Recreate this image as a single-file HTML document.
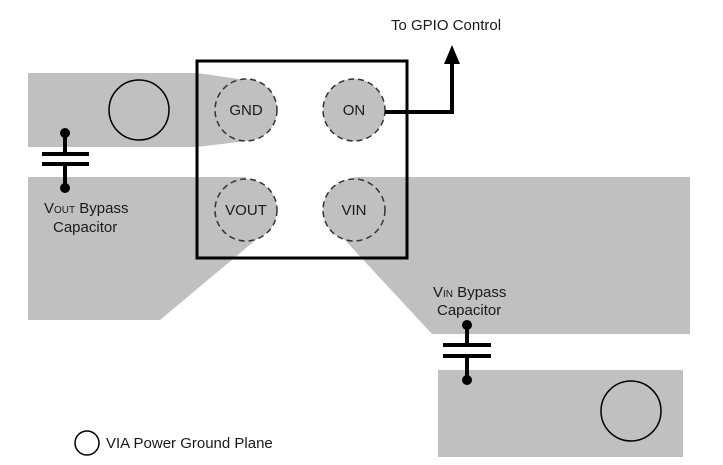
<!DOCTYPE html>
<html><head><meta charset="utf-8"><style>body{margin:0;background:#fff}svg{display:block}text{font-family:"Liberation Sans",sans-serif;font-size:15px;fill:#1a1a1a}</style></head><body>
<svg width="723" height="465" viewBox="0 0 723 465" xmlns="http://www.w3.org/2000/svg">
<g fill="#c0c0c0">
<polygon points="28,73 197,73 246,80 246,141 197,147 28,147"/>
<polygon points="28,177 246,177 246,236 258,238 160,320 28,320"/>
<polygon points="354,177 690,177 690,334 432,334 343,238 354,236"/>
<rect x="438" y="370" width="245" height="87"/>
</g>
<g fill="#c0c0c0" stroke="#333" stroke-width="1.5" stroke-dasharray="6,4">
<circle cx="246" cy="110" r="31"/>
<circle cx="354" cy="110" r="31"/>
<circle cx="246" cy="210" r="31"/>
<circle cx="354" cy="210" r="31"/>
</g>
<rect x="197" y="61" width="210" height="197" fill="none" stroke="#000" stroke-width="3"/>
<g fill="none" stroke="#000" stroke-width="1.5">
<circle cx="139" cy="110" r="30"/>
<circle cx="631" cy="411" r="30"/>
<circle cx="87" cy="443" r="12"/>
</g>
<polyline points="385,112 452,112 452,62" fill="none" stroke="#000" stroke-width="4"/>
<polygon points="452,45 444,64 460,64" fill="#000"/>
<g stroke="#000" stroke-width="4">
<line x1="65" y1="133" x2="65" y2="154"/><line x1="65" y1="164" x2="65" y2="188"/>
<line x1="42" y1="154" x2="89" y2="154"/><line x1="42" y1="164" x2="89" y2="164"/>
<line x1="467" y1="325" x2="467" y2="345"/><line x1="467" y1="356" x2="467" y2="380"/>
<line x1="443" y1="345" x2="491" y2="345"/><line x1="443" y1="356" x2="491" y2="356"/>
</g>
<g fill="#000"><circle cx="65" cy="133" r="5"/><circle cx="65" cy="188" r="5"/><circle cx="467" cy="325" r="5"/><circle cx="467" cy="380" r="5"/></g>
<text x="246" y="115" text-anchor="middle">GND</text>
<text x="354" y="115" text-anchor="middle">ON</text>
<text x="246" y="215" text-anchor="middle">VOUT</text>
<text x="354" y="215" text-anchor="middle">VIN</text>
<text x="391" y="30">To GPIO Control</text>
<text x="44" y="213">V<tspan font-size="10">OUT</tspan> Bypass</text>
<text x="53" y="232">Capacitor</text>
<text x="433" y="297">V<tspan font-size="10">IN</tspan> Bypass</text>
<text x="437" y="315">Capacitor</text>
<text x="106" y="448">VIA Power Ground Plane</text>
</svg>
</body></html>
